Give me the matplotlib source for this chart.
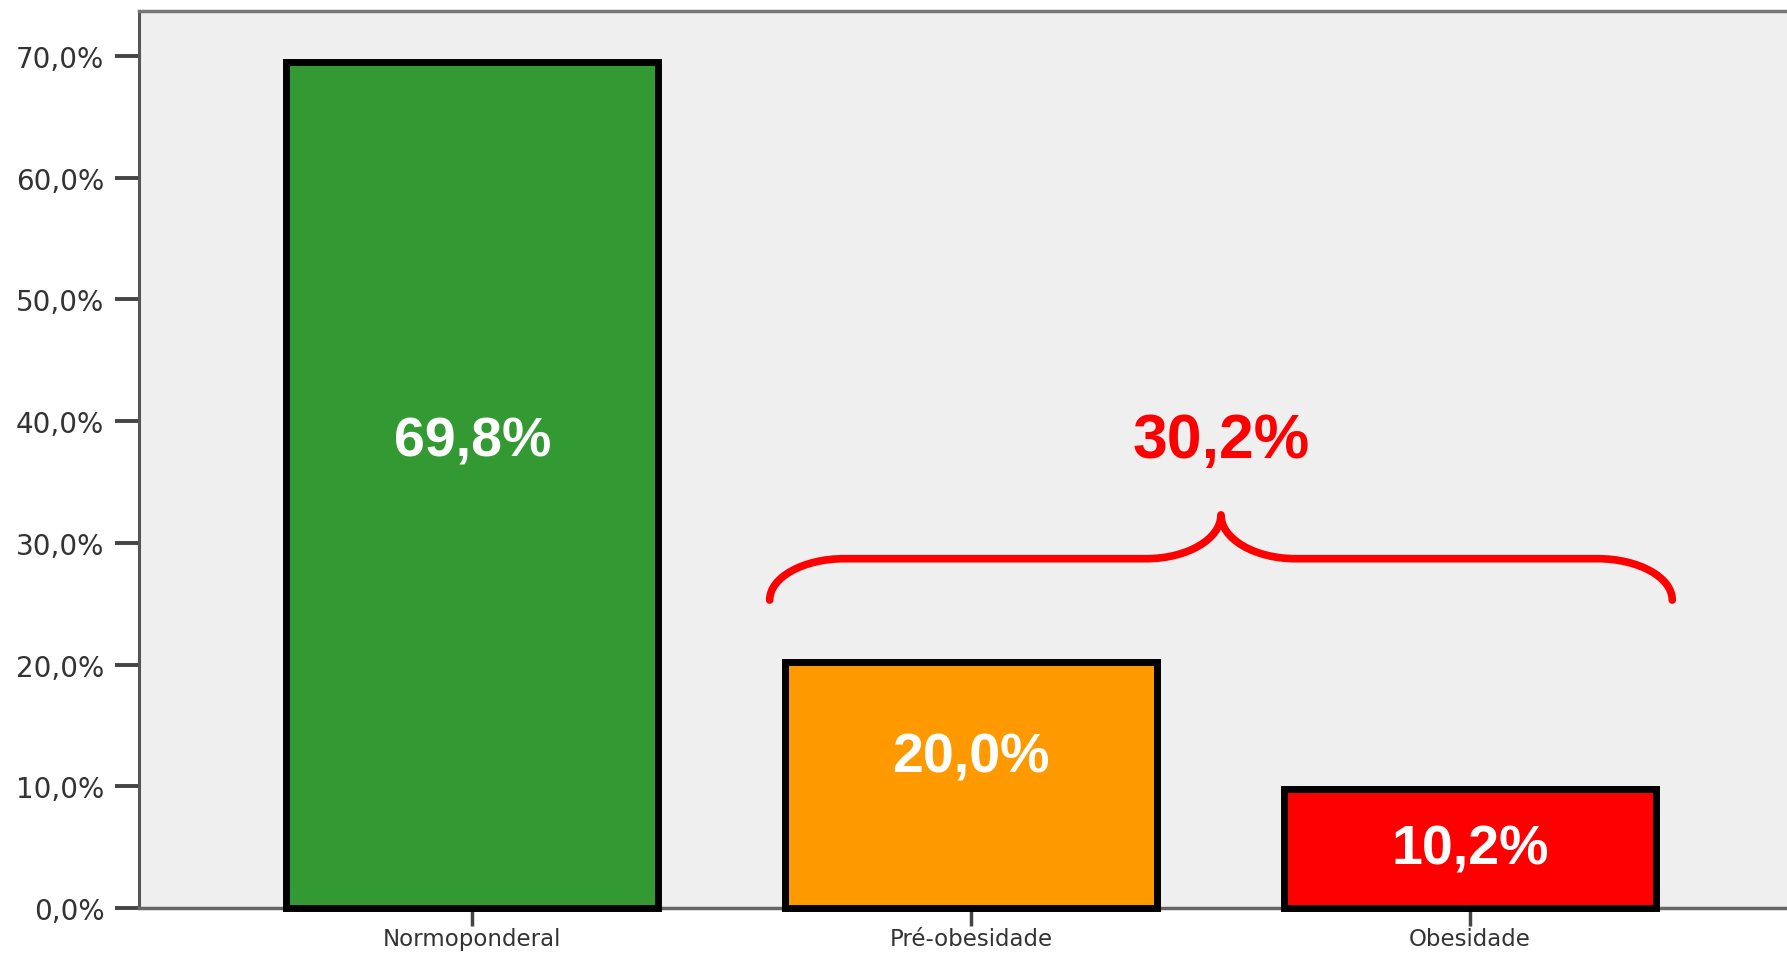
import numpy as np
import matplotlib
matplotlib.use("Agg")
import matplotlib.pyplot as plt
from matplotlib.path import Path
from matplotlib.patches import PathPatch

categories = ["Normoponderal", "Pré-obesidade", "Obesidade"]
values = [69.5, 20.2, 9.8]          # bar heights
bar_labels = ["69,8%", "20,0%", "10,2%"]
bar_colors = ["#339933", "#ff9900", "#ff0000"]
brace_label = "30,2%"
yticks = [0, 10, 20, 30, 40, 50, 60, 70]
ytick_labels = ["0,0%", "10,0%", "20,0%", "30,0%", "40,0%", "50,0%", "60,0%", "70,0%"]

fig = plt.figure(figsize=(17.87, 9.54), dpi=100)
ax = fig.add_axes([139 / 1787, 45 / 954, 1 - 139 / 1787, (909 - 12) / 954])
ax.set_facecolor("#efefef")

x = np.arange(len(categories))
bars = ax.bar(x, values, width=0.745, color=bar_colors, edgecolor="black",
              linewidth=5, zorder=3)
for b in bars:
    b.set_clip_on(False)

# labels inside the bars
label_y = [38.3, 12.4, 4.8]
for xi, lab, ly in zip(x, bar_labels, label_y):
    ax.text(xi, ly, lab, ha="center", va="center", color="white",
            fontsize=40, fontweight="bold", family="Liberation Sans", zorder=4)

# curly brace over the last two bars (quarter-ellipse corners)
xl, xr = x[1] - 0.404, x[2] + 0.405
xc = (xl + xr) / 2
y0, y1, yp = 25.3, 28.7, 32.3
r = 0.15
k = 0.55
verts = [
    (xl, y0), (xl, y0 + k * (y1 - y0)), (xl + r - k * r, y1), (xl + r, y1),
    (xc - r, y1),
    (xc - r + k * r, y1), (xc, yp - k * (yp - y1)), (xc, yp),
    (xc, yp - k * (yp - y1)), (xc + r - k * r, y1), (xc + r, y1),
    (xr - r, y1),
    (xr - r + k * r, y1), (xr, y0 + k * (y1 - y0)), (xr, y0),
]
codes = [Path.MOVETO, Path.CURVE4, Path.CURVE4, Path.CURVE4,
         Path.LINETO,
         Path.CURVE4, Path.CURVE4, Path.CURVE4,
         Path.CURVE4, Path.CURVE4, Path.CURVE4,
         Path.LINETO,
         Path.CURVE4, Path.CURVE4, Path.CURVE4]
ax.add_patch(PathPatch(Path(verts, codes), facecolor="none", edgecolor="#ff0000",
                       linewidth=5.5, capstyle="round", joinstyle="round", zorder=4))
ax.text(xc, 38.4, brace_label, ha="center", va="center", color="#ff0000",
        fontsize=45, fontweight="bold", family="Liberation Sans", zorder=4)

ax.set_xlim(-0.668, 2.635)
ax.set_ylim(0, 73.7)
ax.set_yticks(yticks)
ax.set_yticklabels(ytick_labels)
ax.set_xticks(x)
ax.set_xticklabels(categories)
ax.tick_params(axis="y", length=17, width=2.8, color="#444444", pad=8,
               labelsize=20, labelcolor="#333333")
ax.tick_params(axis="x", length=13, width=2.5, color="#444444", pad=1,
               labelsize=16.5, labelcolor="#333333")

ax.spines["right"].set_visible(False)
ax.spines["left"].set_color("#555555")
ax.spines["left"].set_linewidth(2.2)
ax.spines["top"].set_color("#777777")
ax.spines["top"].set_linewidth(2.5)
ax.spines["bottom"].set_color("#666666")
ax.spines["bottom"].set_linewidth(2.5)

fig.savefig("out.png", dpi=100)
